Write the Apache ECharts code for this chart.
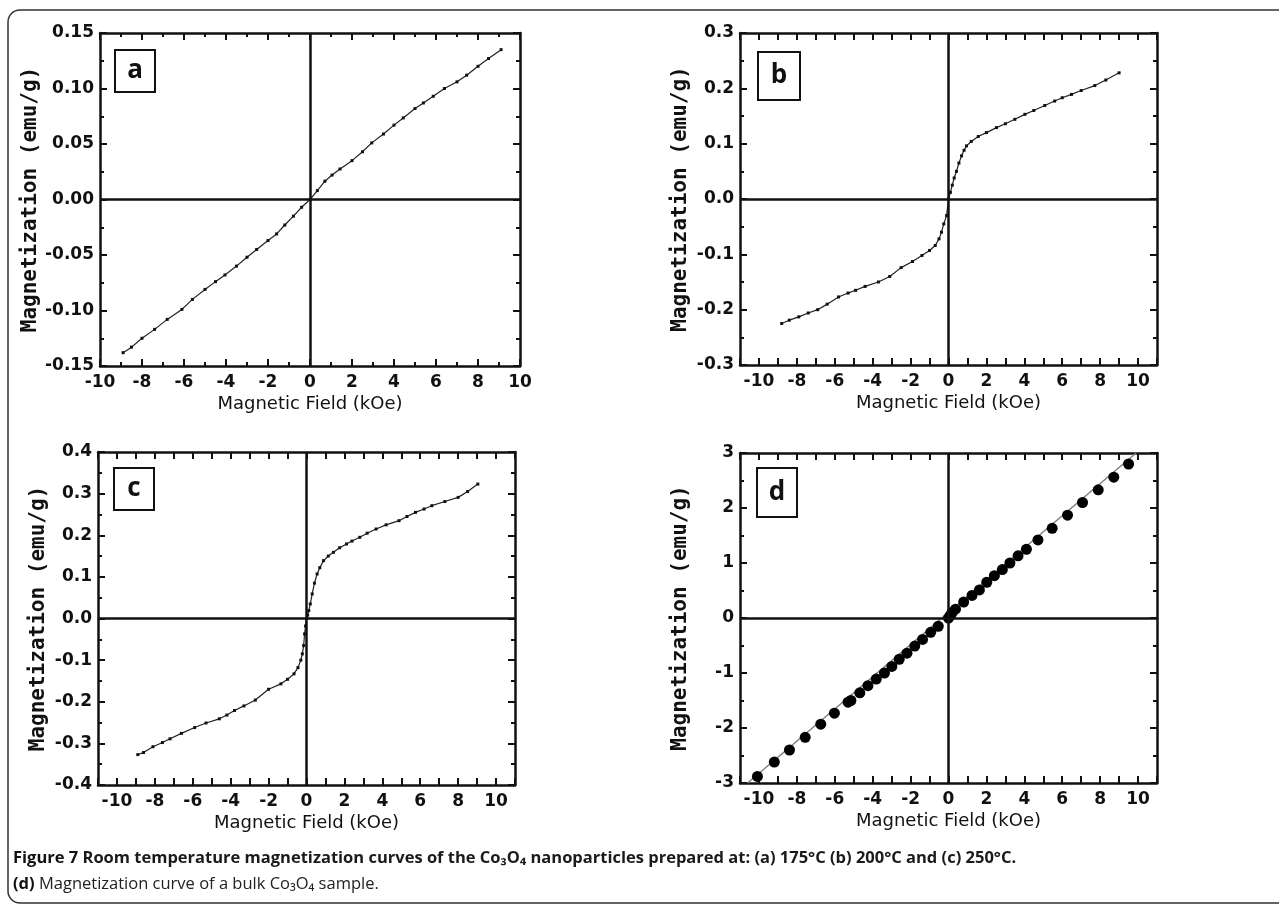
<!DOCTYPE html>
<html>
<head>
<meta charset="utf-8">
<script src="https://cdn.jsdelivr.net/npm/echarts@6/dist/echarts.min.js"></script>
<style>
html,body{margin:0;padding:0;background:#fff;}
#chart{width:1279px;height:909px;}
</style>
</head>
<body>
<div id="chart"></div>
<script>
// ---- Panel (a) 175 °C ----
const aField = [-8.9, -8.5, -8.0, -7.4, -6.8, -6.1, -5.6, -5.0, -4.5, -4.05, -3.5, -3.0, -2.54, -2.0, -1.59, -1.2, -0.79, -0.4, 0, 0.35, 0.71, 1.05, 1.43, 2.0, 2.5, 2.94, 3.5, 4.0, 4.44, 5.0, 5.4, 5.87, 6.4, 7.0, 7.46, 8.0, 8.5, 9.1];
const aMag = [-0.138, -0.133, -0.125, -0.117, -0.108, -0.099, -0.090, -0.081, -0.074, -0.068, -0.060, -0.052, -0.045, -0.037, -0.031, -0.023, -0.015, -0.007, 0, 0.008, 0.0165, 0.022, 0.0275, 0.035, 0.043, 0.051, 0.059, 0.067, 0.0735, 0.082, 0.087, 0.093, 0.100, 0.106, 0.112, 0.120, 0.127, 0.135];

// ---- Panel (b) 200 °C ----
const bField = [-8.8, -8.4, -7.9, -7.4, -6.9, -6.4, -5.8, -5.3, -4.9, -4.4, -3.7, -3.1, -2.5, -1.9, -1.4, -1.0, -0.7, -0.5, -0.37, -0.25, -0.1, 0, 0.1, 0.2, 0.3, 0.42, 0.55, 0.69, 0.82, 0.95, 1.2, 1.57, 2.0, 2.53, 3.0, 3.5, 4.03, 4.5, 5.08, 5.6, 6.0, 6.49, 7.0, 7.72, 8.3, 9.0];
const bMag = [-0.225, -0.219, -0.213, -0.206, -0.200, -0.190, -0.177, -0.170, -0.165, -0.158, -0.150, -0.140, -0.124, -0.113, -0.102, -0.093, -0.084, -0.072, -0.060, -0.045, -0.030, 0, 0.012, 0.025, 0.038, 0.050, 0.065, 0.078, 0.088, 0.096, 0.104, 0.113, 0.120, 0.129, 0.136, 0.144, 0.153, 0.160, 0.169, 0.177, 0.183, 0.189, 0.196, 0.205, 0.215, 0.228];

// ---- Panel (c) 250 °C ----
const cField = [-8.9, -8.6, -8.1, -7.6, -7.2, -6.6, -5.9, -5.3, -4.6, -4.2, -3.8, -3.3, -2.7, -2.0, -1.35, -1.0, -0.66, -0.45, -0.3, -0.22, -0.15, -0.1, -0.05, 0, 0.06, 0.12, 0.2, 0.3, 0.42, 0.56, 0.7, 0.9, 1.15, 1.42, 1.75, 2.11, 2.4, 2.81, 3.2, 3.67, 4.2, 4.88, 5.3, 5.75, 6.2, 6.61, 7.3, 8.0, 8.5, 9.04];
const cMag = [-0.327, -0.322, -0.308, -0.298, -0.289, -0.276, -0.262, -0.251, -0.241, -0.232, -0.221, -0.210, -0.196, -0.170, -0.157, -0.146, -0.133, -0.118, -0.100, -0.085, -0.065, -0.037, -0.018, 0, 0.008, 0.019, 0.035, 0.059, 0.085, 0.107, 0.122, 0.139, 0.150, 0.159, 0.170, 0.179, 0.186, 0.195, 0.205, 0.215, 0.225, 0.235, 0.245, 0.255, 0.263, 0.271, 0.281, 0.291, 0.305, 0.323];

// ---- Panel (d) bulk ----
const dField = [-10.08, -9.19, -8.39, -7.56, -6.74, -6.02, -5.3, -5.15, -4.68, -4.25, -3.81, -3.38, -2.99, -2.6, -2.19, -1.78, -1.37, -0.94, -0.54, 0, 0.1, 0.19, 0.37, 0.8, 1.24, 1.63, 2.02, 2.42, 2.84, 3.24, 3.67, 4.11, 4.72, 5.47, 6.28, 7.07, 7.9, 8.72, 9.5];
const dMag = [-2.88, -2.62, -2.4, -2.17, -1.93, -1.73, -1.53, -1.5, -1.36, -1.23, -1.11, -1.0, -0.88, -0.75, -0.64, -0.51, -0.39, -0.26, -0.15, 0, 0.05, 0.1, 0.16, 0.29, 0.41, 0.51, 0.65, 0.77, 0.88, 1.0, 1.13, 1.25, 1.42, 1.63, 1.87, 2.1, 2.33, 2.56, 2.8];
const dFitField = [-10.6, 9.9];
const dFitMag = [-3.0, 3.0];

// ---- Axis ranges / tick labels ----
const panelLetters = ['a', 'b', 'c', 'd'];
const xRanges = [[-10, 10, 2], [-11, 11, 1], [-11, 11, 1], [-11, 11, 1]];
const yRanges = [[-0.15, 0.15, 0.05], [-0.3, 0.3, 0.1], [-0.4, 0.4, 0.1], [-3, 3, 1]];
const yDecimals = [2, 1, 1, 0];
const xTitle = 'Magnetic Field (kOe)';
const yTitle = 'Magnetization (emu/g)';
const captionLine1a = 'Figure 7';
const captionLine1b = ' Room temperature magnetization curves of the Co₃O₄ nanoparticles prepared at: (a) 175°C (b) 200°C and (c) 250°C.';
const captionLine2a = '(d)';
const captionLine2b = ' Magnetization curve of a bulk Co₃O₄ sample.';

const zip = (xs, ys) => xs.map((x, i) => [x, ys[i]]);

const grids = [
  {left: 100, top: 33, width: 420, height: 333},
  {left: 740, top: 33, width: 417, height: 332},
  {left: 98, top: 452, width: 417, height: 333},
  {left: 740, top: 453, width: 417, height: 330}
];

const INK = '#111';
const xAxes = [], yAxes = [];
grids.forEach((g, i) => {
  const [xmin, xmax, xint] = xRanges[i];
  const [ymin, ymax, yint] = yRanges[i];
  const common = {
    axisLine: {show: true, onZero: false, lineStyle: {color: INK, width: 2.5}},
    axisTick: {show: true, inside: true, length: 7, lineStyle: {color: INK, width: 2}},
    minorTick: {show: true, splitNumber: 2, length: 4, lineStyle: {color: INK, width: 2}},
    splitLine: {show: false}
  };
  const xMinor = xint === 2 ? {show: true, splitNumber: 2, length: 4, lineStyle: {color: INK, width: 2}} : {show: false};
  xAxes.push(Object.assign({}, common, {
    type: 'value', gridIndex: i, position: 'bottom', min: xmin, max: xmax, interval: xint,
    minorTick: xMinor,
    name: xTitle, nameLocation: 'middle', nameGap: 29,
    nameTextStyle: {fontFamily: 'DejaVu Sans', fontSize: 18, color: INK},
    axisLabel: {margin: 8, fontFamily: 'DejaVu Sans', fontWeight: 'bold', fontSize: 17, color: INK,
      formatter: v => (Math.abs(v) % 2 === 0 ? String(Math.round(v)) : '')}
  }));
  xAxes.push(Object.assign({}, common, {
    type: 'value', gridIndex: i, position: 'top', min: xmin, max: xmax, interval: xint,
    minorTick: xMinor, axisLabel: {show: false}
  }));
  yAxes.push(Object.assign({}, common, {
    type: 'value', gridIndex: i, position: 'left', min: ymin, max: ymax, interval: yint,
    name: yTitle, nameLocation: 'middle', nameGap: 49,
    nameTextStyle: {fontFamily: 'DejaVu Sans Mono', fontWeight: 'bold', fontSize: 21, color: INK},
    axisLabel: {margin: 6, fontFamily: 'DejaVu Sans', fontWeight: 'bold', fontSize: 17, color: INK,
      formatter: v => Number(v).toFixed(yDecimals[i])}
  }));
  yAxes.push(Object.assign({}, common, {
    type: 'value', gridIndex: i, position: 'right', min: ymin, max: ymax, interval: yint,
    axisLabel: {show: false}
  }));
});

const zeroLines = {
  silent: true, symbol: ['none', 'none'], label: {show: false},
  lineStyle: {color: INK, width: 2.5, type: 'solid'},
  data: [{xAxis: 0}, {yAxis: 0}]
};

function curveSeries(idx, xs, ys) {
  return {
    type: 'line', xAxisIndex: idx * 2, yAxisIndex: idx * 2,
    data: zip(xs, ys), showSymbol: true, symbol: 'rect', symbolSize: 3,
    itemStyle: {color: INK, opacity: 1}, lineStyle: {color: '#222', width: 1.2},
    markLine: zeroLines, z: 3
  };
}

const series = [
  curveSeries(0, aField, aMag),
  curveSeries(1, bField, bMag),
  curveSeries(2, cField, cMag),
  {
    type: 'line', xAxisIndex: 6, yAxisIndex: 6, data: zip(dFitField, dFitMag),
    showSymbol: false, lineStyle: {color: '#808080', width: 1.5}, markLine: zeroLines, z: 2
  },
  {
    type: 'scatter', xAxisIndex: 6, yAxisIndex: 6, data: zip(dField, dMag),
    symbol: 'circle', symbolSize: 11, itemStyle: {color: '#000', opacity: 1}, z: 4
  }
];

const boxes = [
  {x: 115, y: 50, w: 40, h: 42},
  {x: 758, y: 52, w: 42, h: 48},
  {x: 114, y: 468, w: 40, h: 42},
  {x: 757, y: 468, w: 40, h: 49}
];
const graphics = [
  {type: 'rect', shape: {x: 8, y: 10, width: 1320, height: 893, r: 12}, style: {fill: 'none', stroke: '#333', lineWidth: 1.5}, silent: true}
];
boxes.forEach((b, i) => {
  graphics.push({type: 'rect', shape: {x: b.x, y: b.y, width: b.w, height: b.h}, style: {fill: '#fff', stroke: INK, lineWidth: 2}, z: 10});
  graphics.push({type: 'text', x: b.x + b.w / 2, y: b.y + b.h / 2, z: 11,
    style: {text: panelLetters[i], fontFamily: 'Open Sans', fontWeight: 'bold', fontSize: 26, fill: INK, align: 'center', verticalAlign: 'middle'}});
});
graphics.push({type: 'text', x: 13, y: 858, style: {
  text: '{b|' + captionLine1a + '}{s|' + captionLine1b + '}',
  verticalAlign: 'middle',
  rich: {
    b: {fontFamily: 'Open Sans', fontWeight: 'bold', fontSize: 16.5, fill: '#111'},
    s: {fontFamily: 'Open Sans', fontWeight: 'bold', fontSize: 16.5, fill: '#1a1a1a'}
  }
}});
graphics.push({type: 'text', x: 13, y: 884, style: {
  text: '{b|' + captionLine2a + '}{n|' + captionLine2b + '}',
  verticalAlign: 'middle',
  rich: {
    b: {fontFamily: 'Open Sans', fontWeight: 'bold', fontSize: 16.5, fill: '#111'},
    n: {fontFamily: 'Open Sans', fontWeight: 'normal', fontSize: 16.5, fill: '#222'}
  }
}});

const chart = echarts.init(document.getElementById('chart'), null, {renderer: 'canvas'});
chart.setOption({
  animation: false,
  backgroundColor: '#fff',
  grid: grids.map(g => Object.assign({containLabel: false}, g)),
  xAxis: xAxes,
  yAxis: yAxes,
  series: series,
  graphic: graphics
});
</script>
</body>
</html>
